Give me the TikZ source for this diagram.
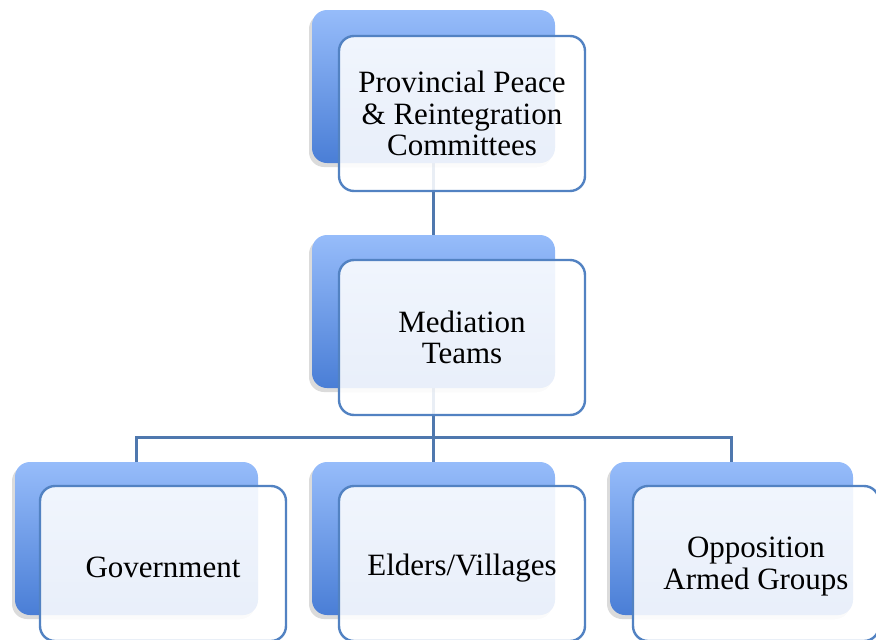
\documentclass[tikz,border=0pt]{standalone}
\usepackage{fontspec}
\setmainfont{Liberation Serif}
\usetikzlibrary{shadows,backgrounds}
\definecolor{bluetop}{HTML}{96BCFA}
\definecolor{bluebot}{HTML}{4A7ED6}
\definecolor{frontline}{HTML}{5282C2}
\definecolor{linkcol}{HTML}{4F78AE}
\tikzset{
  backbox/.style={rounded corners=15pt, minimum width=243pt, minimum height=153pt,
    top color=bluetop, bottom color=bluebot, draw=none, inner sep=0pt, outer sep=0pt,
    anchor=north west,
    drop shadow={shadow xshift=-3pt, shadow yshift=-4pt, opacity=0.14, fill=black}},
  frontbox/.style={rounded corners=15pt, minimum width=246pt, minimum height=155pt,
    draw=frontline, line width=2.4pt, fill=white, fill opacity=0.88, text opacity=1,
    inner sep=0pt, outer sep=0pt, anchor=north west, align=center,
    font=\fontsize{31}{31.5}\selectfont},
  boxtext/.style={inner sep=0pt, align=center, font=\fontsize{31}{31.5}\selectfont},
  link/.style={draw=linkcol, line width=3pt}
}
\begin{document}
\begin{tikzpicture}[x=1pt,y=-1pt]
\useasboundingbox (0,0) rectangle (876,640);
\clip (0,0) rectangle (876,640);
% back boxes
\node[backbox] (b1) at (312,10) {};
\node[backbox] (b2) at (312,235) {};
\node[backbox] (b3) at (15,462) {};
\node[backbox] (b4) at (312,462) {};
\node[backbox] (b5) at (610,462) {};
% front boxes
\node[frontbox] (f1) at (339,36) {Provincial Peace\\\& Reintegration\\Committees};
\node[frontbox] (f2) at (339,260) {Mediation\\Teams};
\node[frontbox] (f3) at (40,486) {};
\node[frontbox] (f4) at (339,486) {};
\node[frontbox] (f5) at (633,486) {};
\node[boxtext] (t3) at ([yshift=-4pt]f3.center) {Government};
\node[boxtext] (t4) at ([yshift=-5pt]f4.center) {Elders/Villages};
\node[boxtext] (t5) at ([yshift=-3pt]f5.center) {Opposition\\Armed Groups};
% connectors
\coordinate (bar) at (433,437);
\begin{scope}[on background layer]
\draw[link] (b1.south) -- (b2.north);
\draw[link] (b2.south) -- (b2.south |- bar);
\draw[link] (b3.north) -- (b3.north |- bar) -- (b5.north |- bar) -- (b5.north);
\draw[link] (b4.north |- bar) -- (b4.north);
\end{scope}
\end{tikzpicture}
\end{document}
